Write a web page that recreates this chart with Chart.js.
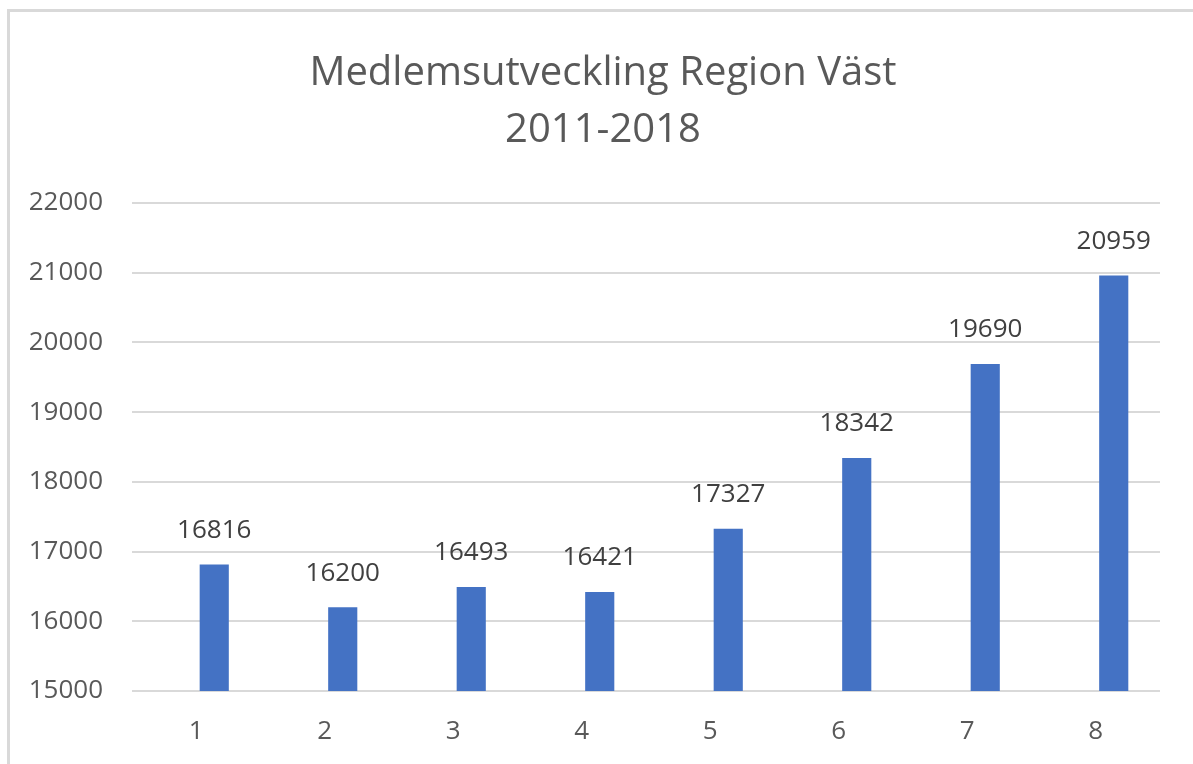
<!DOCTYPE html>
<html>
<head>
<meta charset="utf-8">
<script src="https://cdn.jsdelivr.net/npm/chart.js@4/dist/chart.umd.min.js"></script>
<style>
  body { margin: 0; background: #fff; }
  .ram {
    position: absolute; left: 7px; top: 9px;
    width: 1186px; height: 755px;
    border-top: 3px solid #d9d9d9;
    border-left: 3px solid #d9d9d9;
  }
  canvas { display: block; }
</style>
</head>
<body>
<div class="ram"><canvas id="graf" width="1186" height="755"></canvas></div>
<script>
// Data
const kategorier = ['1', '2', '3', '4', '5', '6', '7', '8'];
const medlemmar = [16816, 16200, 16493, 16421, 17327, 18342, 19690, 20959];
const tomSerie = [null, null, null, null, null, null, null, null]; // tom plats, som i Excel-diagrammet
const yTicks = [15000, 16000, 17000, 18000, 19000, 20000, 21000, 22000];

const textFarg = '#595959';
const typsnitt = "'Open Sans', sans-serif";

// Etiketter ovanför staplarna
const etikettPlugin = {
  id: 'etiketter',
  afterDatasetsDraw(chart) {
    const ctx = chart.ctx;
    const meta = chart.getDatasetMeta(1);
    ctx.save();
    ctx.font = '26px ' + typsnitt;
    ctx.fillStyle = '#404040';
    ctx.textAlign = 'center';
    ctx.textBaseline = 'middle';
    meta.data.forEach((bar, i) => {
      ctx.fillText(String(medlemmar[i]), bar.x, bar.y - 34);
    });
    ctx.restore();
  }
};

new Chart(document.getElementById('graf'), {
  type: 'bar',
  data: {
    labels: kategorier,
    datasets: [
      { label: 'tom', data: tomSerie, backgroundColor: 'rgba(0,0,0,0)' },
      { label: 'Medlemmar', data: medlemmar, backgroundColor: '#4472c4' }
    ]
  },
  options: {
    responsive: false,
    animation: false,
    categoryPercentage: 0.56,
    barPercentage: 0.81,
    layout: { padding: 0 },
    plugins: {
      legend: { display: false },
      tooltip: { enabled: false },
      title: {
        display: true,
        text: ['Medlemsutveckling Region Väst', '2011-2018'],
        color: textFarg,
        font: { family: typsnitt, size: 40, weight: 'normal', lineHeight: 1.425 },
        padding: { top: 33, bottom: 44 }
      }
    },
    scales: {
      x: {
        grid: { display: false },
        border: { display: false },
        ticks: { color: textFarg, font: { family: typsnitt, size: 26 }, padding: 17 },
        afterFit: s => { s.height = 76; }
      },
      y: {
        min: 15000,
        max: 22000,
        afterBuildTicks: s => { s.ticks = yTicks.map(v => ({ value: v })); },
        grid: { color: '#d9d9d9', lineWidth: 2, drawTicks: false },
        border: { display: false },
        ticks: {
          color: textFarg,
          font: { family: typsnitt, size: 26 },
          padding: 29,
          callback: v => String(v)
        },
        afterFit: s => { s.width = 122; }
      },
      // tom axel till höger, bara för marginalen
      hoger: {
        position: 'right',
        grid: { display: false },
        border: { display: false },
        ticks: { display: false },
        afterFit: s => { s.width = 36; }
      }
    }
  },
  plugins: [etikettPlugin]
});
</script>
</body>
</html>
